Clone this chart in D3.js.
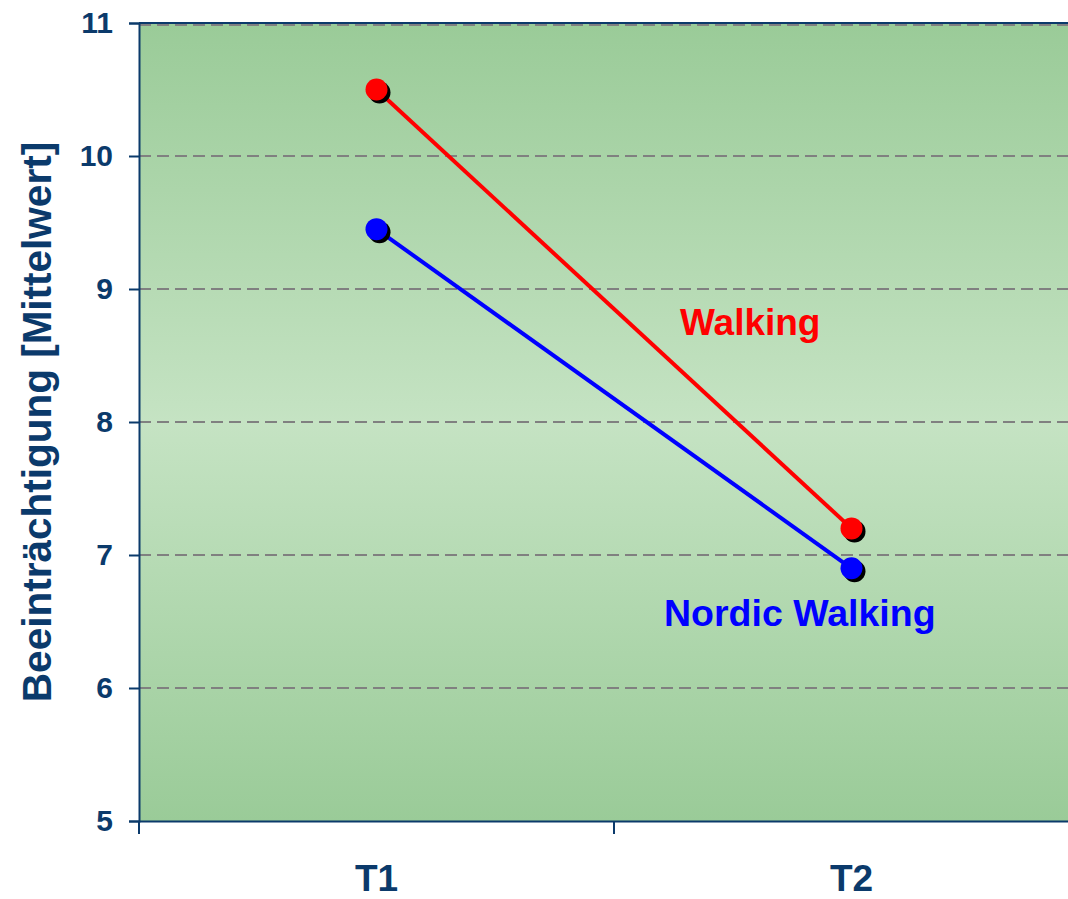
<!DOCTYPE html>
<html>
<head>
<meta charset="utf-8">
<script src="https://cdn.jsdelivr.net/npm/d3@7"></script>
<style>
  body { margin: 0; background: #fff; }
  svg { display: block; font-family: Arial, "Liberation Sans", sans-serif; }
</style>
</head>
<body>
<svg id="chart" width="1068" height="899"></svg>
<script>
// data
var times = ["T1", "T2"];
var walking = [10.5, 7.2];
var nordic = [9.45, 6.9];
var yTicks = [5, 6, 7, 8, 9, 10, 11];

var svg = d3.select("#chart");
var navy = "#0b3a6b";

var plotLeft = 139, plotTop = 23, plotRight = 1089, plotBottom = 821;

var x = d3.scaleBand().domain(times).range([plotLeft, plotRight]);
var y = d3.scaleLinear().domain([5, 11]).range([plotBottom, plotTop]);

// background gradient
var grad = svg.append("defs").append("linearGradient")
  .attr("id", "bg").attr("x1", 0).attr("y1", 0).attr("x2", 0).attr("y2", 1);
grad.append("stop").attr("offset", "0%").attr("stop-color", "#9acb98");
grad.append("stop").attr("offset", "50%").attr("stop-color", "#c5e3c3");
grad.append("stop").attr("offset", "100%").attr("stop-color", "#9acb98");

svg.append("rect")
  .attr("x", plotLeft).attr("y", plotTop)
  .attr("width", plotRight - plotLeft).attr("height", plotBottom - plotTop)
  .attr("fill", "url(#bg)");

// grid lines
svg.append("g").selectAll("line")
  .data(yTicks.filter(function(d) { return d > 5; }))
  .enter().append("line")
  .attr("x1", plotLeft).attr("x2", plotRight)
  .attr("y1", function(d) { return y(d) + (d == 11 ? 2 : 0); })
  .attr("y2", function(d) { return y(d) + (d == 11 ? 2 : 0); })
  .attr("stroke", "#808080")
  .attr("stroke-width", 2)
  .attr("stroke-dasharray", "12,6");

// top border
svg.append("line")
  .attr("x1", plotLeft).attr("x2", plotRight).attr("y1", plotTop).attr("y2", plotTop)
  .attr("stroke", navy).attr("stroke-width", 2);

// y axis
var yAxis = svg.append("g")
  .attr("transform", "translate(" + plotLeft + ",0)")
  .call(d3.axisLeft(y).tickValues(yTicks).tickFormat(d3.format("d")).tickSize(10).tickPadding(16));
yAxis.select(".domain").attr("stroke", navy).attr("stroke-width", 2);
yAxis.selectAll(".tick line").attr("stroke", navy).attr("stroke-width", 2);
yAxis.selectAll(".tick text")
  .attr("fill", navy).style("font-size", "30px").style("font-weight", "bold");

// x axis
var xAxis = svg.append("g")
  .attr("transform", "translate(0," + plotBottom + ")")
  .call(d3.axisBottom(x).tickSize(0).tickPadding(44));
xAxis.select(".domain").attr("stroke", navy).attr("stroke-width", 2);
xAxis.selectAll(".tick text")
  .attr("fill", navy).style("font-size", "37px").style("font-weight", "bold");
// category separators
xAxis.selectAll(".sep")
  .data([plotLeft, x("T2"), plotRight])
  .enter().append("line")
  .attr("x1", function(d) { return d; }).attr("x2", function(d) { return d; })
  .attr("y1", 0).attr("y2", 13)
  .attr("stroke", navy).attr("stroke-width", 2);

// lines
var series = [
  { name: "Walking", values: walking, color: "#ff0000" },
  { name: "Nordic Walking", values: nordic, color: "#0000ff" }
];
var cx = function(i) { return x(times[i]) + x.bandwidth() / 2; };
var line = d3.line()
  .x(function(d, i) { return cx(i); })
  .y(function(d) { return y(d); });

series.forEach(function(s) {
  svg.append("path")
    .datum(s.values)
    .attr("d", line)
    .attr("fill", "none")
    .attr("stroke", s.color)
    .attr("stroke-width", 4);
  // shadow
  svg.append("g").selectAll("circle")
    .data(s.values).enter().append("circle")
    .attr("cx", function(d, i) { return cx(i) + 3; })
    .attr("cy", function(d) { return y(d) + 3; })
    .attr("r", 11).attr("fill", "#000");
  svg.append("g").selectAll("circle")
    .data(s.values).enter().append("circle")
    .attr("cx", function(d, i) { return cx(i); })
    .attr("cy", function(d) { return y(d); })
    .attr("r", 11).attr("fill", s.color);
});

// series labels
svg.append("text")
  .attr("x", 680).attr("y", 335)
  .attr("fill", "#ff0000")
  .style("font-size", "37px").style("font-weight", "bold")
  .text("Walking");
svg.append("text")
  .attr("x", 664).attr("y", 626)
  .attr("fill", "#0000ff")
  .style("font-size", "37.5px").style("font-weight", "bold")
  .text("Nordic Walking");

// y title
svg.append("text")
  .attr("transform", "translate(51," + ((plotTop + plotBottom) / 2) + ") rotate(-90)")
  .attr("text-anchor", "middle")
  .attr("fill", navy)
  .style("font-size", "40.5px").style("font-weight", "bold")
  .text("Beeinträchtigung [Mittelwert]");
</script>
</body>
</html>
